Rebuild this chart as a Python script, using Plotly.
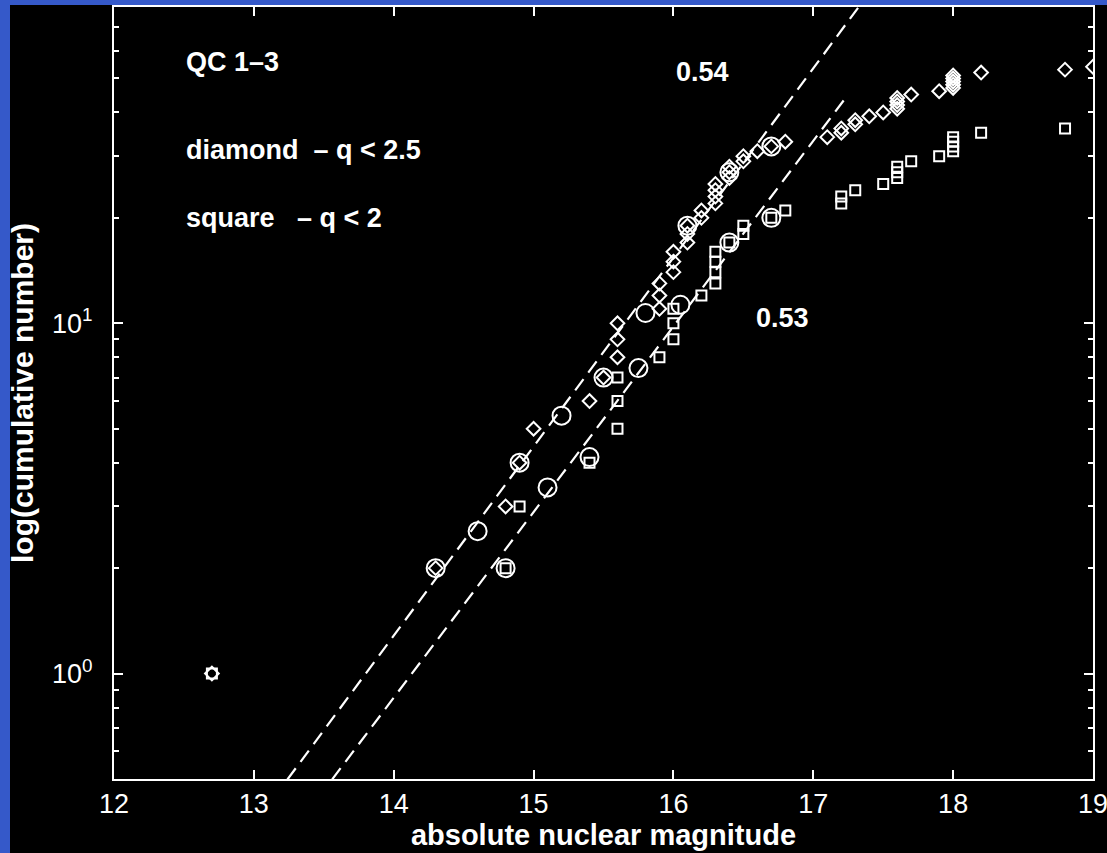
import plotly.graph_objects as go

# ---------------- data ----------------
diamond_mag = [12.7, 14.3, 14.8, 14.9, 15.0, 15.4, 15.5,
               15.6, 15.6, 15.6, 15.9, 15.9, 15.9, 16.0, 16.0, 16.0,
               16.1, 16.1, 16.1, 16.2, 16.2, 16.3, 16.3, 16.3, 16.3,
               16.4, 16.4, 16.4, 16.5, 16.5, 16.6, 16.7, 16.8, 17.1,
               17.2, 17.2, 17.3, 17.3, 17.4, 17.5, 17.6, 17.6, 17.6, 17.6,
               17.7, 17.9, 18.0, 18.0, 18.0, 18.0, 18.0, 18.2, 18.8, 19.0]
diamond_n = [1, 2, 3, 4, 5, 6, 7,
             8, 9, 10, 11, 12, 13, 14, 15, 16,
             17, 18, 19, 20, 21, 22, 23, 24, 25,
             26, 27, 28, 29, 30, 31, 32, 33, 34,
             35, 36, 37, 38, 39, 40, 41, 42, 43, 44,
             45, 46, 47, 48, 49, 50, 51, 52, 53, 54]

square_mag = [12.7, 14.8, 14.9, 15.4, 15.6, 15.6, 15.6, 15.9,
              16.0, 16.0, 16.0, 16.2, 16.3, 16.3, 16.3, 16.3,
              16.4, 16.5, 16.5, 16.7, 16.8, 17.2, 17.2, 17.3, 17.5,
              17.6, 17.6, 17.6, 17.7, 17.9, 18.0, 18.0, 18.0, 18.0,
              18.2, 18.8]
square_n = [1, 2, 3, 4, 5, 6, 7, 8,
            9, 10, 11, 12, 13, 14, 15, 16,
            17, 18, 19, 20, 21, 22, 23, 24, 25,
            26, 27, 28, 29, 30, 31, 32, 33, 34,
            35, 36]

circle_mag = [14.3, 14.6, 14.8, 14.9, 15.1, 15.2, 15.4, 15.5,
              15.75, 15.8, 16.05, 16.1, 16.4, 16.4, 16.7, 16.7]
circle_n = [2.0, 2.55, 2.0, 4.0, 3.4, 5.45, 4.15, 7.0,
            7.45, 10.7, 11.3, 19.0, 17.0, 27.0, 32.0, 20.0]

# fitted slopes (log10 N per magnitude) and the magnitude where N = 1
fit_slopes = [0.54, 0.53]
fit_m0 = [13.80, 14.13]
fit_start = [13.24, 13.56]
fit_end = [17.32, 17.24]
fit_labels = ["0.54", "0.53"]

x_ticks = [12, 13, 14, 15, 16, 17, 18, 19]
y_ticks = [1, 10]
y_ticktext = ["10<sup>0</sup>", "10<sup>1</sup>"]
y_minor = [0.6, 0.7, 0.8, 0.9, 2, 3, 4, 5, 6, 7, 8, 9,
           20, 30, 40, 50, 60, 70, 80]

# ---------------- figure ----------------
W, H = 1107, 853
L, R, T, B = 114, 14, 7, 74
pw, ph = W - L - R, H - T - B

fig = go.Figure()

for s, m0, a, b in zip(fit_slopes, fit_m0, fit_start, fit_end):
    xs = [a, b]
    ys = [10 ** (s * (x - m0)) for x in xs]
    fig.add_trace(go.Scatter(x=xs, y=ys, mode="lines",
                             line=dict(color="white", width=2.2, dash="14px,8px"),
                             hoverinfo="skip", showlegend=False))

fig.add_trace(go.Scatter(x=circle_mag, y=circle_n, mode="markers",
                         marker=dict(symbol="circle-open", size=18,
                                     color="white", line=dict(width=2, color="white")),
                         showlegend=False))
fig.add_trace(go.Scatter(x=diamond_mag, y=diamond_n, mode="markers",
                         marker=dict(symbol="diamond-open", size=10.5,
                                     color="white", line=dict(width=2, color="white")),
                         showlegend=False))
fig.add_trace(go.Scatter(x=square_mag, y=square_n, mode="markers",
                         marker=dict(symbol="square-open", size=10,
                                     color="white", line=dict(width=2, color="white")),
                         showlegend=False))

def px(xp):
    return (xp - L) / pw

def py(yp):
    return (H - B - yp) / ph

ann_font = dict(family="Liberation Sans, Arial, sans-serif", size=27, color="white")
texts = [
    ("QC 1–3", 184, 62),
    ("diamond  – q < 2.5", 184, 150),
    ("square   – q < 2", 184, 218),
    (fit_labels[0], 674, 72),
    (fit_labels[1], 754, 318),
]
annotations = []
for t, xp, yp in texts:
    annotations.append(dict(text="<b>" + t.replace("  ", "\u00a0\u00a0") + "</b>",
                            x=px(xp), y=py(yp), xref="paper", yref="paper",
                            xanchor="left", yanchor="middle", showarrow=False,
                            font=ann_font))

shapes = [dict(type="rect", xref="paper", yref="paper", layer="below",
               x0=px(10), x1=px(W + 5), y0=py(H + 5), y1=py(5),
               fillcolor="black", line=dict(width=0))]

fig.update_layout(
    width=W, height=H,
    margin=dict(l=L, r=R, t=T, b=B, autoexpand=False),
    paper_bgcolor="#3559c9",
    plot_bgcolor="black",
    font=dict(family="Liberation Sans, Arial, sans-serif", color="white", size=27),
    annotations=annotations,
    shapes=shapes,
    showlegend=False,
)

fig.update_xaxes(
    range=[12, 19], tickvals=x_ticks, ticktext=[str(v) for v in x_ticks],
    showgrid=False, zeroline=False, automargin=False,
    showline=True, linewidth=2, linecolor="white", mirror="ticks",
    ticks="inside", ticklen=9, tickwidth=2, tickcolor="white",
    tickfont=dict(size=27, color="white"),
    ticklabeloverflow="allow",
    title=dict(text="<b>absolute nuclear magnitude</b>", font=dict(size=29, color="white"),
               standoff=2),
)
fig.update_yaxes(
    type="log", range=[-0.30103, 1.90309],
    tickvals=y_ticks, ticktext=y_ticktext,
    showgrid=False, zeroline=False, automargin=False,
    showline=True, linewidth=2, linecolor="white", mirror="ticks",
    ticks="inside", ticklen=9, tickwidth=2, tickcolor="white",
    tickfont=dict(size=27, color="white"),
    ticklabelstandoff=14,
    minor=dict(tickvals=y_minor, ticks="inside", ticklen=5, tickwidth=2,
               tickcolor="white", showgrid=False),
    title=dict(text="<b>log(cumulative number)</b>", font=dict(size=30, color="white"),
               standoff=10),
)

fig.write_html("out.html",
               config={"displayModeBar": False},
               post_script="document.body.style.margin='0';document.body.style.padding='0';"
                           "document.body.style.overflow='hidden';")
